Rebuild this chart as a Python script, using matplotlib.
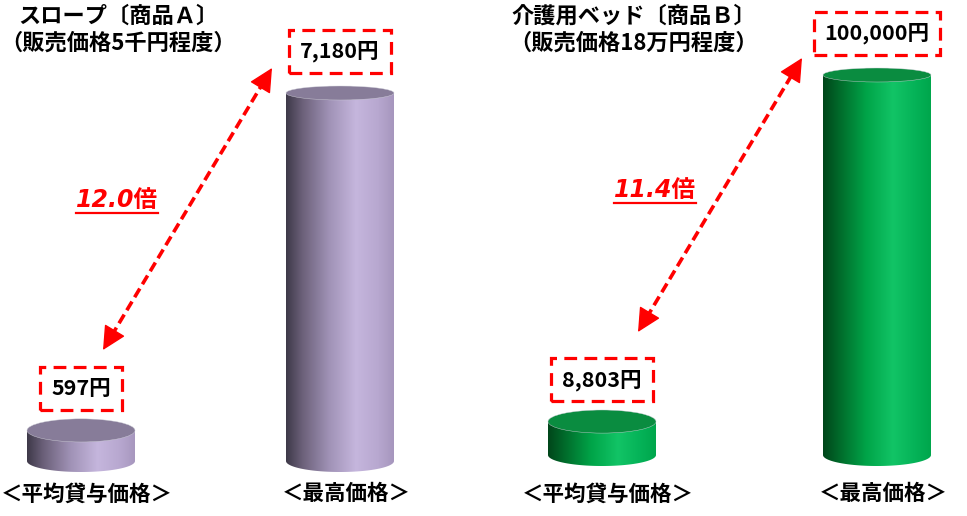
import matplotlib
matplotlib.use("Agg")
import matplotlib.pyplot as plt
import numpy as np
from matplotlib.patches import Ellipse, PathPatch, FancyArrowPatch
from matplotlib.path import Path
from matplotlib.colors import LinearSegmentedColormap
from matplotlib.lines import Line2D

# data
categories = ["＜平均貸与価格＞", "＜最高価格＞"]
slope_values = [597, 7180]
bed_values = [8803, 100000]
slope_title = ["スロープ〔商品Ａ〕", "（販売価格5千円程度）"]
bed_title = ["介護用ベッド〔商品Ｂ〕", "（販売価格18万円程度）"]

W, H = 967, 516
RED = "#ff0000"

purple = LinearSegmentedColormap.from_list("purple", [
    (0.0, "#3e3949"), (0.15, "#6b6079"), (0.40, "#a092b6"),
    (0.65, "#c5b6dd"), (0.85, "#b8a8d0"), (1.0, "#a696bd")])
green = LinearSegmentedColormap.from_list("green", [
    (0.0, "#00461a"), (0.15, "#006a2a"), (0.40, "#00a448"),
    (0.65, "#12c466"), (0.85, "#05b358"), (1.0, "#00a64c")])


def fpx(x, y):
    # figure pixel -> figure fraction
    return (x / W, 1 - y / H)


def cylinder(ax, xc, val, hw, ry_top, ry_bot, cmap, top_color):
    t = np.linspace(0, np.pi, 80)
    verts = [(xc + hw, val), (xc + hw, 0)]
    verts += list(zip(xc + hw * np.cos(t), -ry_bot * np.sin(t)))
    verts += [(xc - hw, val), (xc + hw, val)]
    codes = [Path.MOVETO] + [Path.LINETO] * (len(verts) - 2) + [Path.CLOSEPOLY]
    patch = PathPatch(Path(verts, codes), fc="none", ec="none", zorder=2)
    ax.add_patch(patch)
    grad = np.linspace(0, 1, 256).reshape(1, -1)
    im = ax.imshow(grad, cmap=cmap, extent=[xc - hw, xc + hw, -ry_bot, val],
                   aspect="auto", origin="lower", zorder=2)
    im.set_clip_path(patch)
    ax.add_patch(Ellipse((xc, val), 2 * hw, 2 * ry_top, fc=top_color,
                         ec="#cfcfd8", lw=0.3, zorder=3))


def panel(fig, left_px, right_px, centers_px, base_px, top_px, values,
          title, cmap, top_color, title_cx):
    vmax = max(values)
    u = vmax / (base_px - top_px)          # value units per pixel
    scale = centers_px[1] - centers_px[0]  # pixels per x unit
    ax = fig.add_axes([left_px / W, 0, (right_px - left_px) / W, 1])
    ax.set_xlim((left_px - centers_px[0]) / scale, (right_px - centers_px[0]) / scale)
    ax.set_ylim(-(H - base_px) * u, vmax + top_px * u)
    ax.axis("off")

    hw = 54 / scale
    for i, v in enumerate(values):
        ry_top = (12 - 5 * v / vmax) * u
        ry_bot = 11 * u
        cylinder(ax, i, v, hw, ry_top, ry_bot, cmap, top_color)
        ax.annotate(f"{v:,}円", xy=(i, v), xytext=(0, 30), textcoords="offset points",
                    ha="center", va="center", fontsize=15.5, fontweight="bold",
                    bbox=dict(boxstyle="square,pad=0.5", fc="none", ec=RED,
                              lw=2.3, ls=(0, (4, 2.3))), zorder=5)
        ax.text(i + 6 / scale, 0.043, categories[i], transform=ax.get_xaxis_transform(),
                ha="center", va="center", fontsize=15.5, fontweight="bold")

    tx = (title_cx - left_px) / (right_px - left_px)
    ax.text(tx, 1 - 16 / H, title[0], transform=ax.transAxes, ha="center",
            va="center", fontsize=16, fontweight="bold")
    ax.text(tx, 1 - 43 / H, title[1], transform=ax.transAxes, ha="center",
            va="center", fontsize=16, fontweight="bold")
    return ax


def dashed_arrow(fig, p0, p1):
    p0 = np.array(p0, float)
    p1 = np.array(p1, float)
    d = (p1 - p0) / np.hypot(*(p1 - p0))
    a = p0 + d * 16
    b = p1 - d * 16
    fig.add_artist(Line2D([a[0] / W, b[0] / W], [1 - a[1] / H, 1 - b[1] / H],
                          transform=fig.transFigure, color=RED, lw=2.6,
                          ls=(0, (2.8, 1.4))))
    for tip, back in [(p0, p0 + d * 24), (p1, p1 - d * 24)]:
        fig.add_artist(FancyArrowPatch(fpx(*back), fpx(*tip), transform=fig.transFigure,
                                       arrowstyle="-|>,head_length=15,head_width=7.5",
                                       mutation_scale=1, color=RED, lw=1,
                                       shrinkA=0, shrinkB=0))


def ratio_text(fig, x, y, s):
    t = fig.text(*fpx(x, y), s, ha="center", va="center", fontsize=17,
                 fontweight="bold", style="italic", color=RED,
                 family=["DejaVu Sans", "Noto Sans CJK JP"])
    fig.canvas.draw()
    bb = t.get_window_extent().transformed(fig.transFigure.inverted())
    yline = 1 - (y + 13) / H
    fig.add_artist(Line2D([bb.x0, bb.x1], [yline, yline], transform=fig.transFigure,
                          color=RED, lw=1.6))


def main():
    plt.rcParams["font.family"] = ["Noto Sans CJK JP", "DejaVu Sans"]
    fig = plt.figure(figsize=(W / 100, H / 100), dpi=100)
    fig.patch.set_facecolor("white")

    panel(fig, 0, 480, (81, 340), 461, 93, slope_values, slope_title,
          purple, "#877c99", 118)
    panel(fig, 480, 967, (602, 877), 455, 75, bed_values, bed_title,
          green, "#0a8c40", 634)

    dashed_arrow(fig, (103, 350), (272, 68))
    dashed_arrow(fig, (638, 332), (802, 58))

    ratio_text(fig, 117, 200, f"{slope_values[1] / slope_values[0]:.1f}倍")
    ratio_text(fig, 655, 190, f"{bed_values[1] / bed_values[0]:.1f}倍")

    fig.savefig("out.png", dpi=100, facecolor="white")
#end of main()


if __name__ == "__main__":
    main()
